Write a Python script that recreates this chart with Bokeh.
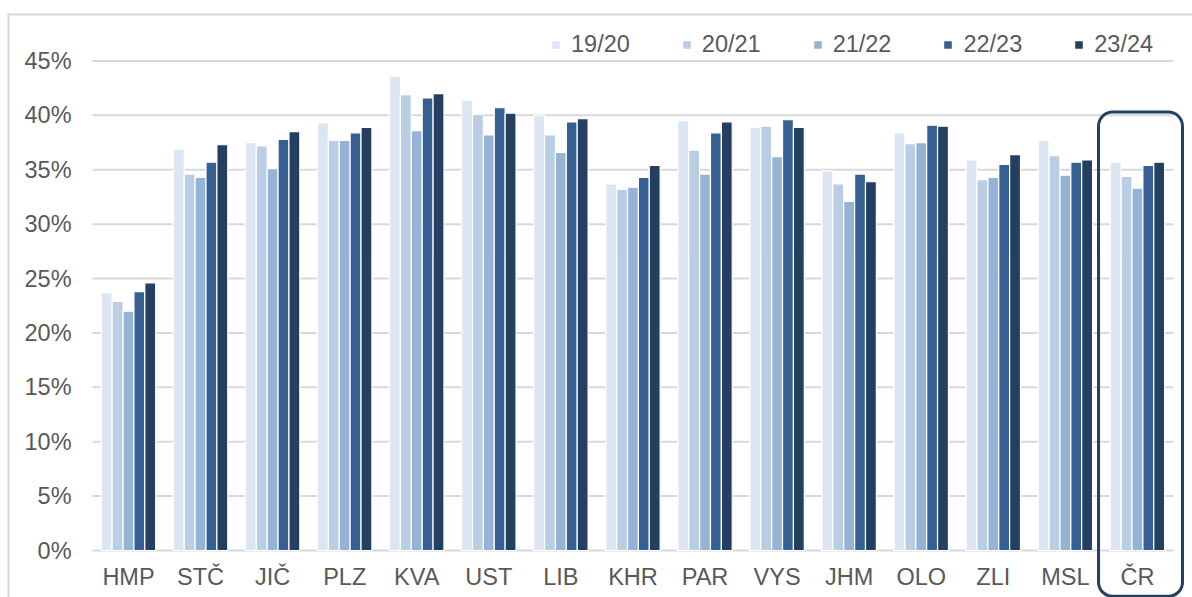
from bokeh.plotting import figure
from bokeh.models import Range1d, BoxAnnotation, ColumnDataSource
from bokeh.core.properties import value
from bokeh.transform import dodge
from bokeh.embed import file_html
from bokeh.resources import INLINE

categories = ["HMP", "STČ", "JIČ", "PLZ", "KVA", "UST", "LIB", "KHR", "PAR", "VYS", "JHM", "OLO", "ZLI", "MSL", "ČR"]
years = ["19/20", "20/21", "21/22", "22/23", "23/24"]
v1920 = [23.7, 36.9, 37.5, 39.3, 43.6, 41.4, 40.0, 33.7, 39.5, 38.9, 34.9, 38.4, 35.9, 37.7, 35.7]
v2021 = [22.9, 34.6, 37.2, 37.7, 41.9, 40.1, 38.2, 33.2, 36.8, 39.0, 33.7, 37.4, 34.1, 36.3, 34.4]
v2122 = [22.0, 34.3, 35.1, 37.7, 38.6, 38.2, 36.6, 33.4, 34.6, 36.2, 32.1, 37.5, 34.3, 34.5, 33.3]
v2223 = [23.8, 35.7, 37.8, 38.4, 41.6, 40.7, 39.4, 34.3, 38.4, 39.6, 34.6, 39.1, 35.5, 35.7, 35.4]
v2324 = [24.6, 37.3, 38.5, 38.9, 42.0, 40.2, 39.7, 35.4, 39.4, 38.9, 33.9, 39.0, 36.4, 35.9, 35.7]
y_ticks = [0, 5, 10, 15, 20, 25, 30, 35, 40, 45]
y_tick_labels = ["0%", "5%", "10%", "15%", "20%", "25%", "30%", "35%", "40%", "45%"]
highlight = "ČR"

colors = ["#dce6f2", "#b9cde5", "#95b3d7", "#376092", "#253f60"]
series = [v1920, v2021, v2122, v2223, v2324]

FONT = "Liberation Sans"
FS = "23.5px"
TXT = "#595959"
GRID = "#d9d9d9"

n = len(categories)
idx = list(range(n))
data = {"idx": idx, "cat": categories}
for y, s in zip(years, series):
    data[y] = s
source = ColumnDataSource(data)

W, H = 1192, 597
p = figure(
    x_range=Range1d(-1.776, 14.764),
    y_range=Range1d(-4.32, 50.56),
    width=W, height=H,
    output_backend="svg", toolbar_location=None, title=None,
    x_axis_location=None, y_axis_location=None,
    min_border=0,
)
p.outline_line_color = None
p.xgrid.visible = False
p.ygrid.visible = False

# horizontal gridlines (incl. the 0 % base line)
p.segment(x0=[-0.5] * len(y_ticks), x1=[n - 0.5] * len(y_ticks), y0=y_ticks, y1=y_ticks,
          line_color=GRID, line_width=2)

# bars
slot = 0.151
for k, (y, c) in enumerate(zip(years, colors)):
    p.vbar(x=dodge("idx", (k - 2) * slot), top=y, width=slot,
           source=source, fill_color=c, line_color="white", line_width=1.2,
           legend_label=y)

# y tick labels
p.text(x=[-0.79] * len(y_ticks), y=y_ticks, text=y_tick_labels,
       text_align="right", text_baseline="middle",
       text_font=value(FONT), text_font_size=FS, text_color=TXT)

# category labels
p.text(x="idx", y=-2.48, text="cat", source=source,
       text_align="center", text_baseline="middle",
       text_font=value(FONT), text_font_size=FS, text_color=TXT)

lg = p.legend[0]
lg.orientation = "horizontal"
lg.location = (550, 539)
lg.border_line_color = None
lg.background_fill_alpha = 0
lg.padding = 0
lg.margin = 0
lg.spacing = 51
lg.glyph_width = 11
lg.glyph_height = 11
lg.label_standoff = 10
lg.label_text_font = FONT
lg.label_text_font_size = FS
lg.label_text_color = TXT

# outer frame lines (top and left); screen y counts from the bottom
p.add_layout(BoxAnnotation(left=7, right=W, top=H - 13, bottom=H - 15,
                           left_units="screen", right_units="screen", top_units="screen", bottom_units="screen",
                           fill_color=GRID, fill_alpha=1, line_color=None))
p.add_layout(BoxAnnotation(left=7, right=9, top=H - 13, bottom=0,
                           left_units="screen", right_units="screen", top_units="screen", bottom_units="screen",
                           fill_color=GRID, fill_alpha=1, line_color=None))

# highlight box around the national total
i = categories.index(highlight)
p.add_layout(BoxAnnotation(left=i - 0.54, right=i + 0.625, top=40.3, bottom=-4.2,
                           fill_alpha=0, line_color="#243f60", line_alpha=1, line_width=3,
                           border_radius=14))

open("out.html", "w").write(file_html(p, INLINE))
